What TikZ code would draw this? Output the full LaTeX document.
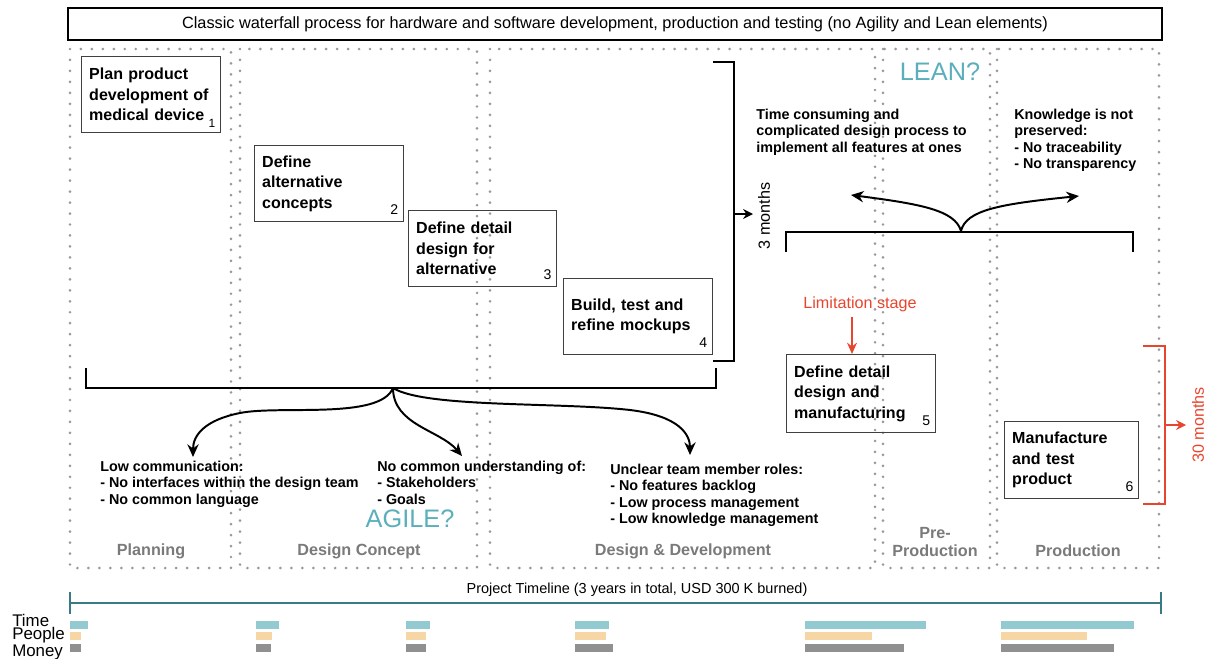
\documentclass[tikz,border=0pt]{standalone}
\usepackage{fontspec}
\setmainfont{Liberation Sans}
\usetikzlibrary{arrows.meta}

\definecolor{dotgray}{HTML}{999999}
\definecolor{phasegray}{HTML}{7A7A7A}
\definecolor{questteal}{HTML}{5BAFBB}
\definecolor{limitred}{HTML}{E8452E}
\definecolor{lineteal}{HTML}{3A7A85}
\definecolor{timebar}{HTML}{93C9D1}
\definecolor{peoplebar}{HTML}{F7D6A6}
\definecolor{moneybar}{HTML}{909090}

\tikzset{
  column/.style={draw=dotgray, line width=2.1pt, line cap=round, dash pattern=on 0pt off 7.8pt},
  titlebox/.style={draw, line width=1.8pt, minimum width=27.35cm, minimum height=0.8cm, font=\fontsize{11.6}{13}\selectfont},
  stage/.style={draw=black!75, line width=0.7pt, anchor=north west, align=left, inner xsep=5.5pt, inner ysep=0pt, font=\fontsize{11.4}{14.5}\selectfont\bfseries},
  stagenum/.style={anchor=south east, inner xsep=4pt, inner ysep=5pt, font=\fontsize{10}{10}\selectfont},
  issue/.style={anchor=north west, align=left, inner sep=0pt, font=\fontsize{10.2}{11.6}\selectfont\bfseries},
  phase/.style={text=phasegray, align=center, font=\fontsize{11.5}{12.8}\selectfont\bfseries},
  question/.style={text=questteal, font=\fontsize{18}{18}\selectfont},
  months/.style={rotate=90, font=\fontsize{11.5}{12}\selectfont},
  bracket/.style={line width=1.7pt},
  fork/.style={line width=1.4pt, -{Stealth[length=9pt, width=8pt]}},
  timeline/.style={draw=lineteal, line width=2.1pt}
}

\begin{document}
\begin{tikzpicture}[x=0.025cm, y=-0.025cm]
\useasboundingbox (0,0) rectangle (1209,658);

% phase columns
\draw[column] (70,49) rectangle (231,568);
\draw[column] (240,49) rectangle (477,568);
\draw[column] (490,49) rectangle (875,568);
\draw[column] (883,49) rectangle (990,568);
\draw[column] (997,49) rectangle (1159,568);

\node[titlebox] (title) at (615,24) {Classic waterfall process for hardware and software development, production and testing (no Agility and Lean elements)};

% waterfall stages
\node[stage, text width=88pt, minimum height=1.9cm] (planbox) at (81,56) {Plan product\\development of\\medical device};
\node[stagenum, font=\fontsize{8.5}{8.5}\selectfont, inner ysep=4pt] (plannum) at (planbox.south east) {1};
\node[stage, text width=95pt, minimum height=1.9cm] (conceptbox) at (254,145) {Define\\alternative\\concepts};
\node[stagenum] (conceptnum) at (conceptbox.south east) {2};
\node[stage, text width=94.5pt, minimum height=1.9cm] (detailbox) at (408,210) {Define detail\\design for\\alternative};
\node[stagenum] (detailnum) at (detailbox.south east) {3};
\node[stage, text width=95pt, minimum height=1.9cm] (mockbox) at (563,278) {Build, test and\\refine mockups};
\node[stagenum] (mocknum) at (mockbox.south east) {4};
\node[stage, text width=95pt, minimum height=1.95cm] (mfgbox) at (786,354) {Define detail\\design and\\manufacturing};
\node[stagenum] (mfgnum) at (mfgbox.south east) {5};
\node[stage, text width=84.5pt, minimum height=1.925cm] (prodbox) at (1004,421) {Manufacture\\and test\\product};
\node[stagenum] (prodnum) at (prodbox.south east) {6};

% brackets round the first four stages
\draw[bracket] (86,368) -- (86,388) -- (716,388) -- (716,368);
\draw[bracket] (713,62) -- (734,62) -- (734,361) -- (713,361);
\draw[bracket, -{Stealth[length=7pt, width=7pt]}] (734,214) -- (753,214);
\node[months] (shortspan) at (764,216) {3 months};

% bracket over the late stages
\draw[bracket] (786,252) -- (786,232) -- (1133,232) -- (1133,252);

% red bracket for production
\draw[bracket, limitred] (1143,346) -- (1165,346) -- (1165,504) -- (1143,504);
\draw[bracket, limitred, -{Stealth[length=7pt, width=7pt]}] (1165,425) -- (1186,425);
\node[months, text=limitred] (longspan) at (1198,425) {30 months};

\node[text=limitred, font=\fontsize{11.5}{12}\selectfont] (limit) at (860,304) {Limitation stage};
\draw[line width=1.4pt, limitred, -{Stealth[length=8pt, width=7pt]}] ([xshift=-0.2cm]limit.south) -- ([xshift=-0.2cm]limit.south |- mfgbox.north);

% problems
\node[issue] (slow) at (756,109) {Time consuming and\\complicated design process to\\implement all features at ones};
\node[issue] (knowledge) at (1014,109) {Knowledge is not\\preserved:\\- No traceability\\- No transparency};
\node[issue] (comm) at (100,461) {Low communication:\\- No interfaces within the design team\\- No common language};
\node[issue] (common) at (377,461) {No common understanding of:\\- Stakeholders\\- Goals};
\node[issue] (roles) at (610,464) {Unclear team member roles:\\- No features backlog\\- Low process management\\- Low knowledge management};

\coordinate (forkup) at (961,231);
\coordinate (slowtip) at (851,195);
\coordinate (knowtip) at (1079,196);
\draw[fork] (forkup) .. controls (955,210) and (920,204) .. (slowtip);
\draw[fork] (forkup) .. controls (966,210) and (1000,204) .. (knowtip);

\coordinate (forkdown) at (393,388);
\coordinate (commtip) at (193,457);
\coordinate (commontip) at (462,456);
\coordinate (rolestip) at (690,455);
\draw[fork] (forkdown) .. controls (380,420) and (280,405) .. (240,413) .. controls (205,420) and (193,435) .. (commtip);
\draw[fork] (forkdown) .. controls (393,425) and (440,430) .. (commontip);
\draw[fork] (forkdown) .. controls (425,408) and (560,402) .. (630,410) .. controls (680,416) and (690,435) .. (rolestip);

\node[question] (agile) at (410,519) {AGILE?};
\node[question] (lean) at (940,72) {LEAN?};

% phase names
\node[phase] (planning) at (151,551) {Planning};
\node[phase] (concept) at (359,551) {Design Concept};
\node[phase] (develop) at (683,551) {Design \& Development};
\node[phase] (preprod) at (935,542) {Pre-\\Production};
\node[phase] (production) at (1078,551) {Production};

% timeline
\node[font=\fontsize{10.3}{12}\selectfont] (span) at (637,590) {Project Timeline (3 years in total, USD 300 K burned)};
\draw[timeline] (70,603) -- (1161,603);
\draw[timeline] (70,592) -- (70,614);
\draw[timeline] (1161,592) -- (1161,614);

% effort per stage
\node[anchor=west, align=left, inner sep=0pt, font=\fontsize{12}{9.3}\selectfont] (usage) at (12,637) {Time\\People\\Money};
\fill[timebar] (70,621) rectangle (88,629);
\fill[peoplebar] (70,632) rectangle (81,640);
\fill[moneybar] (70,644) rectangle (81,652);
\fill[timebar] (256,621) rectangle (279,629);
\fill[peoplebar] (256,632) rectangle (272,640);
\fill[moneybar] (256,644) rectangle (271,652);
\fill[timebar] (406,621) rectangle (430,629);
\fill[peoplebar] (406,632) rectangle (426,640);
\fill[moneybar] (406,644) rectangle (426,652);
\fill[timebar] (575,621) rectangle (609,629);
\fill[peoplebar] (575,632) rectangle (606,640);
\fill[moneybar] (575,644) rectangle (613,652);
\fill[timebar] (805,621) rectangle (926,629);
\fill[peoplebar] (805,632) rectangle (872,640);
\fill[moneybar] (805,644) rectangle (904,652);
\fill[timebar] (1001,621) rectangle (1134,629);
\fill[peoplebar] (1001,632) rectangle (1087,640);
\fill[moneybar] (1001,644) rectangle (1114,652);
\end{tikzpicture}
\end{document}
